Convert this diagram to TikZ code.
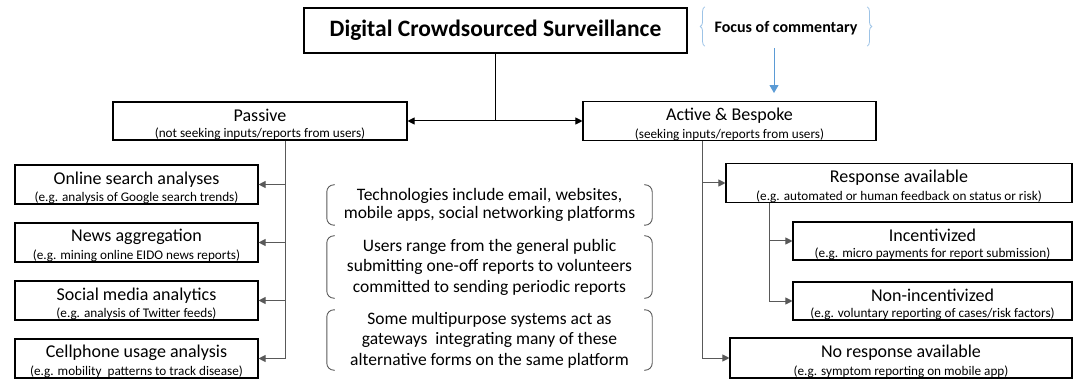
\documentclass[tikz,border=0pt]{standalone}
\usepackage{fontspec}
\setmainfont{Carlito}
\usetikzlibrary{arrows.meta,decorations.pathreplacing,calc}
\definecolor{lineg}{HTML}{595959}
\definecolor{focusblue}{HTML}{5B9BD5}
\definecolor{bracel}{HTML}{9DC3E6}
\newcommand{\mt}[1]{{\fontsize{18}{20}\selectfont\rule{0pt}{19pt}#1}}
\newcommand{\st}[1]{{\fontsize{13.2}{15}\selectfont #1}}
\begin{document}
\begin{tikzpicture}[x=1pt,y=-1pt,
  box/.style={draw=black,line width=1.1pt,inner sep=0pt,align=center,
    minimum width=#1},
  midbox/.style={inner sep=0pt,align=center,minimum width=325pt,
    font=\fontsize{17.5}{20.5}\selectfont},
  conn/.style={draw=lineg,line width=1pt},
  arr/.style={conn,-{Triangle[length=7pt,width=7pt]}},
  brk/.style={draw=lineg,line width=0.9pt,rounded corners=7pt},
  fbrace/.style={draw=bracel,line width=0.8pt,decorate,
    decoration={brace,amplitude=4.5pt}}
]
\useasboundingbox (0,0) rectangle (1078,379);

% top
\node[box=383pt,minimum height=45pt,font=\fontsize{23.5}{26}\selectfont\bfseries] (top) at (495.5,30.5) {Digital Crowdsourced Surveillance};

% focus
\node[font=\fontsize{16}{18}\selectfont\bfseries,minimum width=170pt,minimum height=39pt,inner sep=0pt] (focus) at (786,28.5) {Focus of commentary};
\draw[fbrace] ($(focus.south west)+(4,-2)$) -- ($(focus.north west)+(4,-2)$);
\draw[fbrace] ($(focus.north east)+(-4,-2)$) -- ($(focus.south east)+(-4,-2)$);

% level 1
\node[box=294pt,minimum height=38pt] (passive) at (260,121)
  {\mt{Passive}\\[4pt]\st{(not seeking inputs/reports from users)}};
\node[box=293pt,minimum height=38pt] (active) at (729.5,121)
  {\mt{Active \& Bespoke}\\[4pt]\st{(seeking inputs/reports from users)}};

% left column
\node[box=243pt,minimum height=39pt] (ls1) at (136.5,184.5)
  {\mt{Online search analyses}\\[4pt]\st{(e.g. analysis of Google search trends)}};
\node[box=243pt,minimum height=39pt] (ls2) at (136.5,242.5)
  {\mt{News aggregation}\\[4pt]\st{(e.g. mining online EIDO news reports)}};
\node[box=243pt,minimum height=39pt] (ls3) at (136.5,300.5)
  {\mt{Social media analytics}\\[4pt]\st{(e.g. analysis of Twitter feeds)}};
\node[box=243pt,minimum height=39pt] (ls4) at (136.5,358.5)
  {\mt{Cellphone usage analysis}\\[4pt]\st{(e.g. mobility\ \ patterns to track disease)}};

% right column
\node[box=346pt,minimum height=38pt] (resp) at (899,183)
  {\mt{Response available}\\[4pt]\st{(e.g. automated or human feedback on status or risk)}};
\node[box=279pt,minimum height=38pt] (incent) at (932.5,241)
  {\mt{Incentivized}\\[4pt]\st{(e.g. micro payments for report submission)}};
\node[box=279pt,minimum height=38pt] (nonin) at (932.5,301)
  {\mt{Non-incentivized}\\[4pt]\st{(e.g. voluntary reporting of cases/risk factors)}};
\node[box=342pt,minimum height=40pt] (noresp) at (901,358)
  {\mt{No response available}\\[4pt]\st{(e.g. symptom reporting on mobile app)}};

% middle notes
\node[midbox,minimum height=40pt] (m1) at (489.5,205)
  {Technologies include email, websites,\\[-2.5pt]mobile apps, social networking platforms};
\node[midbox,minimum height=62pt] (m2) at (489.5,267)
  {Users range from the general public\\submitting one-off reports to volunteers\\committed to sending periodic reports};
\node[midbox,minimum height=60pt] (m3) at (489.5,340)
  {Some multipurpose systems act as\\gateways\ \ integrating many of these\\alternative forms on the same platform};
\foreach \m in {m1,m2,m3}{
  \draw[brk] ($(\m.north west)+(8,0)$) -- (\m.north west) -- (\m.south west) -- ($(\m.south west)+(8,0)$);
  \draw[brk] ($(\m.north east)+(-8,0)$) -- (\m.north east) -- (\m.south east) -- ($(\m.south east)+(-8,0)$);
}

% connectors
\coordinate (j) at (top.south |- passive.east);
\draw[draw=black,line width=1pt] (top.south) -- (j);
\draw[draw=black,line width=1pt,-{Triangle[length=7pt,width=7pt]}] (j) -- (passive.east);
\draw[draw=black,line width=1pt,-{Triangle[length=7pt,width=7pt]}] (j) -- (active.west);

\coordinate (pl) at (285,0);
\draw[conn] (pl |- passive.south) -- (pl |- ls4.east);
\foreach \b in {ls1,ls2,ls3,ls4}{\draw[arr] (pl |- \b.east) -- (\b.east);}

\coordinate (ar) at (702,0);
\draw[conn] (ar |- active.south) -- (ar |- noresp.west);
\foreach \b in {resp,noresp}{\draw[arr] (ar |- \b.west) -- (\b.west);}

\coordinate (rr) at (769,0);
\draw[conn] (rr |- resp.south) -- (rr |- nonin.west);
\foreach \b in {incent,nonin}{\draw[arr] (rr |- \b.west) -- (\b.west);}

\coordinate (fa) at (774,0);
\coordinate (fe) at ($(fa |- active.north)+(0,-8)$);
\draw[draw=focusblue,line width=1pt,-{Triangle[length=8pt,width=9pt]}] (fa |- focus.south) -- (fe);
\end{tikzpicture}
\end{document}
